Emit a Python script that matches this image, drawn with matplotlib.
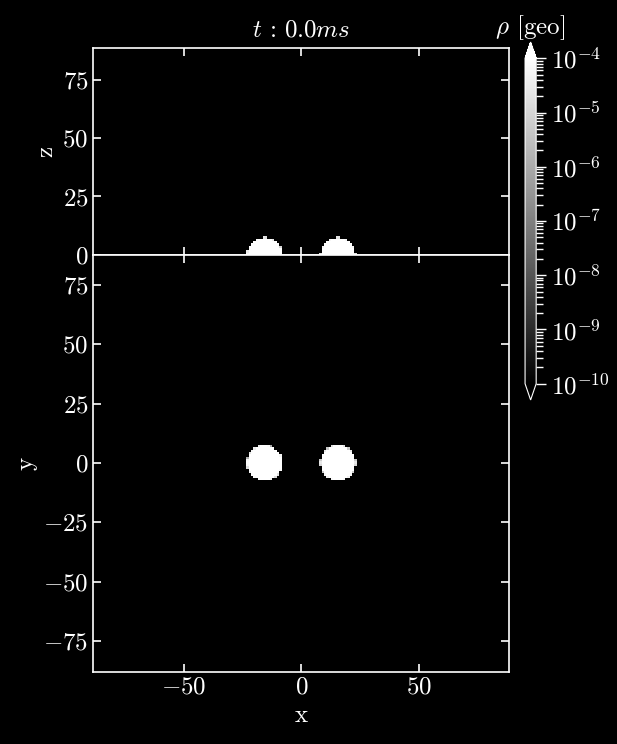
import numpy as np
import matplotlib
matplotlib.use("Agg")
import matplotlib.pyplot as plt
from matplotlib.colors import LogNorm
from matplotlib.ticker import LogLocator

plt.rcParams['font.family'] = 'serif'
plt.rcParams['font.serif'] = ['cmr10']
plt.rcParams['mathtext.fontset'] = 'cm'
plt.rcParams['axes.formatter.use_mathtext'] = True
plt.rcParams['axes.unicode_minus'] = True

# star data (code units)
star_x = [-15.6, 15.6]
star_y = [0.0, 0.0]
star_z = [0.0, 0.0]
star_r = [7.6, 7.6]
rho_c = 1.0e-3
rho_atm = 1.0e-13
grid_dx = 1.0
box = 88.4

time_ms = 0.0

def density(a, b, ca, cb):
    rho = np.full(a.shape, rho_atm)
    for i in range(len(star_r)):
        r2 = ((a - ca[i])**2 + (b - cb[i])**2) / star_r[i]**2
        inside = r2 < 1
        rho[inside] = np.maximum(rho[inside], rho_c * (1 - r2[inside]))
    return rho

xe = np.arange(-box, box + grid_dx, grid_dx)
ye = np.arange(-box, box + grid_dx, grid_dx)
ze = np.arange(0, box + grid_dx, grid_dx)
xc = 0.5 * (xe[1:] + xe[:-1])
yc = 0.5 * (ye[1:] + ye[:-1])
zc = 0.5 * (ze[1:] + ze[:-1])

XZx, XZz = np.meshgrid(xc, zc)
rho_xz = density(XZx, XZz, star_x, star_z)
XYx, XYy = np.meshgrid(xc, yc)
rho_xy = density(XYx, XYy, star_x, star_y)

norm = LogNorm(vmin=1e-10, vmax=1e-4)
cmap = 'gray'

fig = plt.figure(figsize=(6.17, 7.44), dpi=100, facecolor='black')
ax_top = fig.add_axes([0.1512, 0.6573, 0.6742, 0.2782])
ax_bot = fig.add_axes([0.1512, 0.0968, 0.6742, 0.5605])
cax = fig.add_axes([0.851, 0.4624, 0.018, 0.4811])

ax_top.pcolormesh(xe, ze, rho_xz, cmap=cmap, norm=norm)
im = ax_bot.pcolormesh(xe, ye, rho_xy, cmap=cmap, norm=norm)

fs = 18
for ax in [ax_top, ax_bot]:
    ax.set_facecolor('black')
    ax.set_xlim(-88.4, 88.4)
    ax.set_xticks([-50, 0, 50])
    for s in ax.spines.values():
        s.set_color('white')
        s.set_linewidth(1.2)
    ax.tick_params(direction='in', top=True, right=True, colors='white',
                   labelsize=fs, length=6, width=1.2)

ax_top.set_ylim(0, 88.5)
ax_top.set_yticks([0, 25, 50, 75])
ax_top.tick_params(labelbottom=False)
ax_top.set_ylabel('z', color='white', fontsize=fs)
ax_top.set_title(r'$t\,:\,%.1f ms$' % time_ms, color='white', fontsize=fs, pad=8)

ax_bot.set_ylim(-88.1, 87.6)
ax_bot.set_yticks([-75, -50, -25, 0, 25, 50, 75])
ax_bot.set_xlabel('x', color='white', fontsize=fs)
ax_bot.set_ylabel('y', color='white', fontsize=fs)

cb = fig.colorbar(im, cax=cax, extend='both')
cb.outline.set_edgecolor('white')
cb.ax.yaxis.set_major_locator(LogLocator(base=10, numticks=20))
cb.ax.yaxis.set_minor_locator(LogLocator(base=10, subs=np.arange(2, 10), numticks=20))
cb.ax.tick_params(which='both', colors='white', labelsize=fs)
cb.ax.tick_params(which='major', length=7, width=1)
cb.ax.tick_params(which='minor', length=5, width=1)
cb.ax.set_title(r'$\rho$ [geo]', color='white', fontsize=fs, pad=6)

fig.savefig('out.png', dpi=100, facecolor='black')
